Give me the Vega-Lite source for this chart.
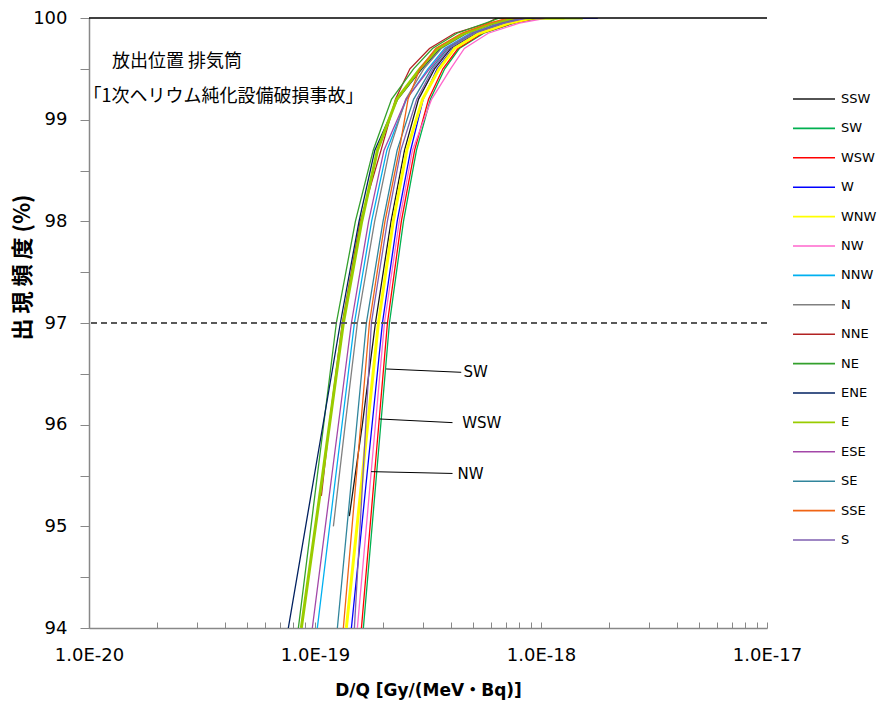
{
  "$schema": "https://vega.github.io/schema/vega-lite/v6.json",
  "width": 678,
  "height": 610,
  "autosize": {"type": "none"},
  "padding": {"left": 89, "top": 18, "right": 112, "bottom": 79},
  "background": "white",
  "config": {"view": {"stroke": null}, "font": "DejaVu Sans"},
  "datasets": {
    "curves": [
      {"dir": "SSW", "y": 95.1, "x": 1.419e-19}, {"dir": "SSW", "y": 96, "x": 1.62e-19}, {"dir": "SSW", "y": 97, "x": 1.851e-19}, {"dir": "SSW", "y": 98, "x": 2.17e-19}, {"dir": "SSW", "y": 98.7, "x": 2.49e-19}, {"dir": "SSW", "y": 99.2, "x": 2.87e-19}, {"dir": "SSW", "y": 99.5, "x": 3.38e-19}, {"dir": "SSW", "y": 99.7, "x": 3.98e-19}, {"dir": "SSW", "y": 99.85, "x": 5.19e-19}, {"dir": "SSW", "y": 99.95, "x": 6.98e-19}, {"dir": "SSW", "y": 100, "x": 8.91e-19}, {"dir": "SSW", "y": 100, "x": 1.038e-18},
      {"dir": "SW", "y": 94, "x": 1.637e-19}, {"dir": "SW", "y": 95.5, "x": 1.87e-19}, {"dir": "SW", "y": 97, "x": 2.135e-19}, {"dir": "SW", "y": 98, "x": 2.463e-19}, {"dir": "SW", "y": 98.7, "x": 2.813e-19}, {"dir": "SW", "y": 99.2, "x": 3.24e-19}, {"dir": "SW", "y": 99.5, "x": 3.75e-19}, {"dir": "SW", "y": 99.7, "x": 4.35e-19}, {"dir": "SW", "y": 99.85, "x": 5.58e-19}, {"dir": "SW", "y": 99.95, "x": 7.62e-19}, {"dir": "SW", "y": 100, "x": 9.9e-19}, {"dir": "SW", "y": 100, "x": 1.21e-18},
      {"dir": "WSW", "y": 94, "x": 1.605e-19}, {"dir": "WSW", "y": 95.5, "x": 1.832e-19}, {"dir": "WSW", "y": 97, "x": 2.092e-19}, {"dir": "WSW", "y": 98, "x": 2.41e-19}, {"dir": "WSW", "y": 98.7, "x": 2.76e-19}, {"dir": "WSW", "y": 99.2, "x": 3.18e-19}, {"dir": "WSW", "y": 99.5, "x": 3.68e-19}, {"dir": "WSW", "y": 99.7, "x": 4.29e-19}, {"dir": "WSW", "y": 99.85, "x": 5.5e-19}, {"dir": "WSW", "y": 99.95, "x": 7.49e-19}, {"dir": "WSW", "y": 100, "x": 9.7e-19}, {"dir": "WSW", "y": 100, "x": 1.41e-18},
      {"dir": "W", "y": 94, "x": 1.449e-19}, {"dir": "W", "y": 95.5, "x": 1.697e-19}, {"dir": "W", "y": 97, "x": 1.988e-19}, {"dir": "W", "y": 98, "x": 2.31e-19}, {"dir": "W", "y": 98.7, "x": 2.65e-19}, {"dir": "W", "y": 99.2, "x": 3.01e-19}, {"dir": "W", "y": 99.5, "x": 3.47e-19}, {"dir": "W", "y": 99.7, "x": 4.07e-19}, {"dir": "W", "y": 99.85, "x": 5.25e-19}, {"dir": "W", "y": 99.95, "x": 7.12e-19}, {"dir": "W", "y": 100, "x": 9.0e-19}, {"dir": "W", "y": 100, "x": 1.784e-18},
      {"dir": "WNW", "y": 94, "x": 1.376e-19}, {"dir": "WNW", "y": 95.5, "x": 1.62e-19}, {"dir": "WNW", "y": 97, "x": 1.908e-19}, {"dir": "WNW", "y": 98, "x": 2.22e-19}, {"dir": "WNW", "y": 98.7, "x": 2.55e-19}, {"dir": "WNW", "y": 99.2, "x": 2.99e-19}, {"dir": "WNW", "y": 99.5, "x": 3.54e-19}, {"dir": "WNW", "y": 99.7, "x": 4.14e-19}, {"dir": "WNW", "y": 99.85, "x": 5.32e-19}, {"dir": "WNW", "y": 99.95, "x": 7.25e-19}, {"dir": "WNW", "y": 100, "x": 9.15e-19}, {"dir": "WNW", "y": 100, "x": 1.27e-18},
      {"dir": "NW", "y": 94, "x": 1.54e-19}, {"dir": "NW", "y": 95.5, "x": 1.767e-19}, {"dir": "NW", "y": 97, "x": 2.029e-19}, {"dir": "NW", "y": 98, "x": 2.36e-19}, {"dir": "NW", "y": 98.7, "x": 2.70e-19}, {"dir": "NW", "y": 99.2, "x": 3.28e-19}, {"dir": "NW", "y": 99.5, "x": 3.98e-19}, {"dir": "NW", "y": 99.7, "x": 4.58e-19}, {"dir": "NW", "y": 99.85, "x": 5.84e-19}, {"dir": "NW", "y": 99.95, "x": 8.02e-19}, {"dir": "NW", "y": 100, "x": 1.06e-18}, {"dir": "NW", "y": 100, "x": 1.15e-18},
      {"dir": "NNW", "y": 94, "x": 1.024e-19}, {"dir": "NNW", "y": 95.5, "x": 1.236e-19}, {"dir": "NNW", "y": 97, "x": 1.494e-19}, {"dir": "NNW", "y": 98, "x": 1.78e-19}, {"dir": "NNW", "y": 98.7, "x": 2.08e-19}, {"dir": "NNW", "y": 99.2, "x": 2.54e-19}, {"dir": "NNW", "y": 99.5, "x": 3.16e-19}, {"dir": "NNW", "y": 99.7, "x": 3.74e-19}, {"dir": "NNW", "y": 99.85, "x": 4.86e-19}, {"dir": "NNW", "y": 99.95, "x": 6.56e-19}, {"dir": "NNW", "y": 100, "x": 8.05e-19}, {"dir": "NNW", "y": 100, "x": 9.87e-19},
      {"dir": "N", "y": 95.0, "x": 1.206e-19}, {"dir": "N", "y": 96, "x": 1.36e-19}, {"dir": "N", "y": 97, "x": 1.54e-19}, {"dir": "N", "y": 98, "x": 1.836e-19}, {"dir": "N", "y": 98.7, "x": 2.135e-19}, {"dir": "N", "y": 99.2, "x": 2.52e-19}, {"dir": "N", "y": 99.5, "x": 3.03e-19}, {"dir": "N", "y": 99.7, "x": 3.62e-19}, {"dir": "N", "y": 99.85, "x": 4.71e-19}, {"dir": "N", "y": 99.95, "x": 6.34e-19}, {"dir": "N", "y": 100, "x": 7.71e-19}, {"dir": "N", "y": 100, "x": 8.91e-19},
      {"dir": "NNE", "y": 95.3, "x": 1.067e-19}, {"dir": "NNE", "y": 96, "x": 1.157e-19}, {"dir": "NNE", "y": 97, "x": 1.321e-19}, {"dir": "NNE", "y": 98, "x": 1.585e-19}, {"dir": "NNE", "y": 98.7, "x": 1.96e-19}, {"dir": "NNE", "y": 99.2, "x": 2.27e-19}, {"dir": "NNE", "y": 99.5, "x": 2.63e-19}, {"dir": "NNE", "y": 99.7, "x": 3.21e-19}, {"dir": "NNE", "y": 99.85, "x": 4.15e-19}, {"dir": "NNE", "y": 99.95, "x": 5.81e-19}, {"dir": "NNE", "y": 100, "x": 6.36e-19}, {"dir": "NNE", "y": 100, "x": 7.27e-19},
      {"dir": "NE", "y": 94, "x": 8.44e-20}, {"dir": "NE", "y": 95.5, "x": 1.024e-19}, {"dir": "NE", "y": 97, "x": 1.243e-19}, {"dir": "NE", "y": 98, "x": 1.509e-19}, {"dir": "NE", "y": 98.7, "x": 1.81e-19}, {"dir": "NE", "y": 99.2, "x": 2.18e-19}, {"dir": "NE", "y": 99.5, "x": 2.73e-19}, {"dir": "NE", "y": 99.7, "x": 3.31e-19}, {"dir": "NE", "y": 99.85, "x": 4.25e-19}, {"dir": "NE", "y": 99.95, "x": 5.69e-19}, {"dir": "NE", "y": 100, "x": 6.56e-19}, {"dir": "NE", "y": 100, "x": 7.65e-19},
      {"dir": "ENE", "y": 94, "x": 7.62e-20}, {"dir": "ENE", "y": 95.5, "x": 9.93e-20}, {"dir": "ENE", "y": 97, "x": 1.295e-19}, {"dir": "ENE", "y": 98, "x": 1.566e-19}, {"dir": "ENE", "y": 98.7, "x": 1.84e-19}, {"dir": "ENE", "y": 99.2, "x": 2.32e-19}, {"dir": "ENE", "y": 99.5, "x": 2.97e-19}, {"dir": "ENE", "y": 99.7, "x": 3.56e-19}, {"dir": "ENE", "y": 99.85, "x": 4.66e-19}, {"dir": "ENE", "y": 99.95, "x": 6.22e-19}, {"dir": "ENE", "y": 100, "x": 7.53e-19}, {"dir": "ENE", "y": 100, "x": 1.093e-18},
      {"dir": "E", "y": 94, "x": 8.7e-20}, {"dir": "E", "y": 95.5, "x": 1.08e-19}, {"dir": "E", "y": 97, "x": 1.335e-19}, {"dir": "E", "y": 98, "x": 1.61e-19}, {"dir": "E", "y": 98.7, "x": 1.89e-19}, {"dir": "E", "y": 99.2, "x": 2.30e-19}, {"dir": "E", "y": 99.5, "x": 2.91e-19}, {"dir": "E", "y": 99.7, "x": 3.50e-19}, {"dir": "E", "y": 99.85, "x": 4.59e-19}, {"dir": "E", "y": 99.95, "x": 6.11e-19}, {"dir": "E", "y": 100, "x": 8.05e-19}, {"dir": "E", "y": 100, "x": 1.53e-18},
      {"dir": "ESE", "y": 94, "x": 9.73e-20}, {"dir": "ESE", "y": 95.5, "x": 1.187e-19}, {"dir": "ESE", "y": 97, "x": 1.449e-19}, {"dir": "ESE", "y": 98, "x": 1.727e-19}, {"dir": "ESE", "y": 98.7, "x": 2.02e-19}, {"dir": "ESE", "y": 99.2, "x": 2.53e-19}, {"dir": "ESE", "y": 99.5, "x": 3.21e-19}, {"dir": "ESE", "y": 99.7, "x": 3.80e-19}, {"dir": "ESE", "y": 99.85, "x": 4.93e-19}, {"dir": "ESE", "y": 99.95, "x": 6.66e-19}, {"dir": "ESE", "y": 100, "x": 8.25e-19}, {"dir": "ESE", "y": 100, "x": 1.038e-18},
      {"dir": "SE", "y": 94, "x": 1.256e-19}, {"dir": "SE", "y": 95.5, "x": 1.456e-19}, {"dir": "SE", "y": 97, "x": 1.688e-19}, {"dir": "SE", "y": 98, "x": 2.00e-19}, {"dir": "SE", "y": 98.7, "x": 2.31e-19}, {"dir": "SE", "y": 99.2, "x": 2.73e-19}, {"dir": "SE", "y": 99.5, "x": 3.27e-19}, {"dir": "SE", "y": 99.7, "x": 3.86e-19}, {"dir": "SE", "y": 99.85, "x": 5.01e-19}, {"dir": "SE", "y": 99.95, "x": 6.78e-19}, {"dir": "SE", "y": 100, "x": 8.45e-19}, {"dir": "SE", "y": 100, "x": 9.35e-19},
      {"dir": "SSE", "y": 94, "x": 1.335e-19}, {"dir": "SSE", "y": 95.5, "x": 1.525e-19}, {"dir": "SSE", "y": 97, "x": 1.741e-19}, {"dir": "SSE", "y": 98, "x": 2.04e-19}, {"dir": "SSE", "y": 98.7, "x": 2.36e-19}, {"dir": "SSE", "y": 99.2, "x": 2.58e-19}, {"dir": "SSE", "y": 99.5, "x": 2.91e-19}, {"dir": "SSE", "y": 99.7, "x": 3.42e-19}, {"dir": "SSE", "y": 99.85, "x": 4.45e-19}, {"dir": "SSE", "y": 99.95, "x": 5.93e-19}, {"dir": "SSE", "y": 100, "x": 7.12e-19}, {"dir": "SSE", "y": 100, "x": 8.47e-19},
      {"dir": "S", "y": 94, "x": 1.494e-19}, {"dir": "S", "y": 95.5, "x": 1.63e-19}, {"dir": "S", "y": 97, "x": 1.776e-19}, {"dir": "S", "y": 98, "x": 2.09e-19}, {"dir": "S", "y": 98.7, "x": 2.40e-19}, {"dir": "S", "y": 99.2, "x": 2.82e-19}, {"dir": "S", "y": 99.5, "x": 3.33e-19}, {"dir": "S", "y": 99.7, "x": 3.93e-19}, {"dir": "S", "y": 99.85, "x": 5.08e-19}, {"dir": "S", "y": 99.95, "x": 6.89e-19}, {"dir": "S", "y": 100, "x": 8.65e-19}, {"dir": "S", "y": 100, "x": 9.87e-19}
    ],
    "notes": [
      {"x": 1.264e-20, "y": 99.564, "label": "放出位置 排気筒"},
      {"x": 9.46e-21, "y": 99.226, "label": "「1次ヘリウム純化設備破損事故」"}
    ],
    "callouts": [
      {"x": 4.543e-19, "y": 96.52, "label": "SW"},
      {"x": 4.483e-19, "y": 96.02, "label": "WSW"},
      {"x": 4.275e-19, "y": 95.51, "label": "NW"}
    ],
    "leaders": [
      {"x": 2.064e-19, "x2": 4.437e-19, "y": 96.548, "y2": 96.515},
      {"x": 1.928e-19, "x2": 4.06e-19, "y": 96.056, "y2": 96.02},
      {"x": 1.771e-19, "x2": 4.06e-19, "y": 95.538, "y2": 95.52}
    ]
  },
  "layer": [
    {
      "data": {"name": "curves"},
      "mark": {"type": "line", "clip": true},
      "encoding": {
        "x": {
          "field": "x", "type": "quantitative",
          "scale": {"type": "log", "domain": [1e-20, 1e-17], "nice": false},
          "axis": {
            "title": "D/Q [Gy/(MeV・Bq)]",
            "titleFont": "DejaVu Sans, Noto Sans CJK JP", "titleFontSize": 17, "titleFontWeight": "bold", "titleColor": "#000000",
            "titleX": 339, "titleY": 62, "titleBaseline": "middle", "titleAlign": "center",
            "values": [1e-20, 2e-20, 3e-20, 4e-20, 5e-20, 6e-20, 7e-20, 8e-20, 9e-20, 1e-19, 2e-19, 3e-19, 4e-19, 5e-19, 6e-19, 7e-19, 8e-19, 9e-19, 1e-18, 2e-18, 3e-18, 4e-18, 5e-18, 6e-18, 7e-18, 8e-18, 9e-18, 1e-17],
            "labelExpr": "abs(log(datum.value)/LN10 - round(log(datum.value)/LN10)) < 0.01 ? '1.0E' + round(log(datum.value)/LN10) : ''",
            "labelFont": "DejaVu Sans", "labelFontSize": 18, "labelColor": "#000000",
            "labelPadding": 24, "labelFlush": false, "labelOverlap": false, "labelBound": false,
            "tickSize": -6, "tickColor": "#888888", "tickWidth": 1,
            "domainColor": "#888888", "domainWidth": 1.5, "grid": false
          }
        },
        "y": {
          "field": "y", "type": "quantitative",
          "scale": {"domain": [94, 100], "nice": false, "zero": false},
          "axis": {
            "title": "出 現 頻 度 (%)",
            "titleFont": "Noto Sans CJK JP", "titleFontSize": 22, "titleFontWeight": "bold", "titleColor": "#000000",
            "titleX": -67, "titleY": 249, "titleBaseline": "middle", "titleAlign": "center", "titleAngle": -90,
            "values": [94, 94.5, 95, 95.5, 96, 96.5, 97, 97.5, 98, 98.5, 99, 99.5, 100],
            "labelExpr": "datum.value % 1 == 0 ? format(datum.value, 'd') : ''",
            "labelFont": "DejaVu Sans", "labelFontSize": 18, "labelColor": "#000000",
            "labelPadding": 13, "labelOverlap": false, "labelBound": false, "labelFlush": false,
            "tickSize": 9, "tickColor": "#888888", "tickWidth": 1,
            "domainColor": "#888888", "domainWidth": 1.5, "grid": false
          }
        },
        "color": {
          "field": "dir", "type": "nominal",
          "scale": {
            "domain": ["SSW", "SW", "WSW", "W", "WNW", "NW", "NNW", "N", "NNE", "NE", "ENE", "E", "ESE", "SE", "SSE", "S"],
            "range": ["#1a1a1a", "#00B050", "#FF0000", "#0000FF", "#FFFF00", "#FF66CC", "#00B0F0", "#808080", "#B22222", "#33A02C", "#002060", "#99CC00", "#A347A8", "#31859C", "#F06414", "#7F5FB0"]
          },
          "legend": {
            "orient": "none", "legendX": 703, "legendY": 73, "title": null,
            "symbolType": "stroke", "symbolSize": 1764, "symbolStrokeWidth": 1.6,
            "labelFont": "DejaVu Sans", "labelFontSize": 13, "labelColor": "#000000",
            "clipHeight": 16, "rowPadding": 13.4, "labelOffset": 5, "padding": 0
          }
        },
        "strokeWidth": {
          "condition": {"test": "datum.dir === 'WNW' || datum.dir === 'E'", "value": 3},
          "value": 1.3
        }
      }
    },
    {
      "data": {"values": [{"y": 97}]},
      "mark": {"type": "rule", "color": "#595959", "strokeDash": [6, 4], "strokeWidth": 2},
      "encoding": {"y": {"field": "y", "type": "quantitative"}}
    },
    {
      "data": {"values": [{"y": 100}]},
      "mark": {"type": "rule", "color": "#000000", "strokeWidth": 1.5},
      "encoding": {"y": {"field": "y", "type": "quantitative"}}
    },
    {
      "data": {"name": "leaders"},
      "mark": {"type": "rule", "color": "#000000", "strokeWidth": 1},
      "encoding": {
        "x": {"field": "x", "type": "quantitative"},
        "x2": {"field": "x2"},
        "y": {"field": "y", "type": "quantitative"},
        "y2": {"field": "y2"}
      }
    },
    {
      "data": {"name": "callouts"},
      "mark": {"type": "text", "align": "left", "baseline": "middle", "font": "DejaVu Sans", "fontSize": 15, "color": "#000000"},
      "encoding": {
        "x": {"field": "x", "type": "quantitative"},
        "y": {"field": "y", "type": "quantitative"},
        "text": {"field": "label"}
      }
    },
    {
      "data": {"name": "notes"},
      "mark": {"type": "text", "align": "left", "baseline": "middle", "font": "Noto Sans CJK JP", "fontSize": 18, "color": "#000000"},
      "encoding": {
        "x": {"field": "x", "type": "quantitative"},
        "y": {"field": "y", "type": "quantitative"},
        "text": {"field": "label"}
      }
    }
  ]
}
